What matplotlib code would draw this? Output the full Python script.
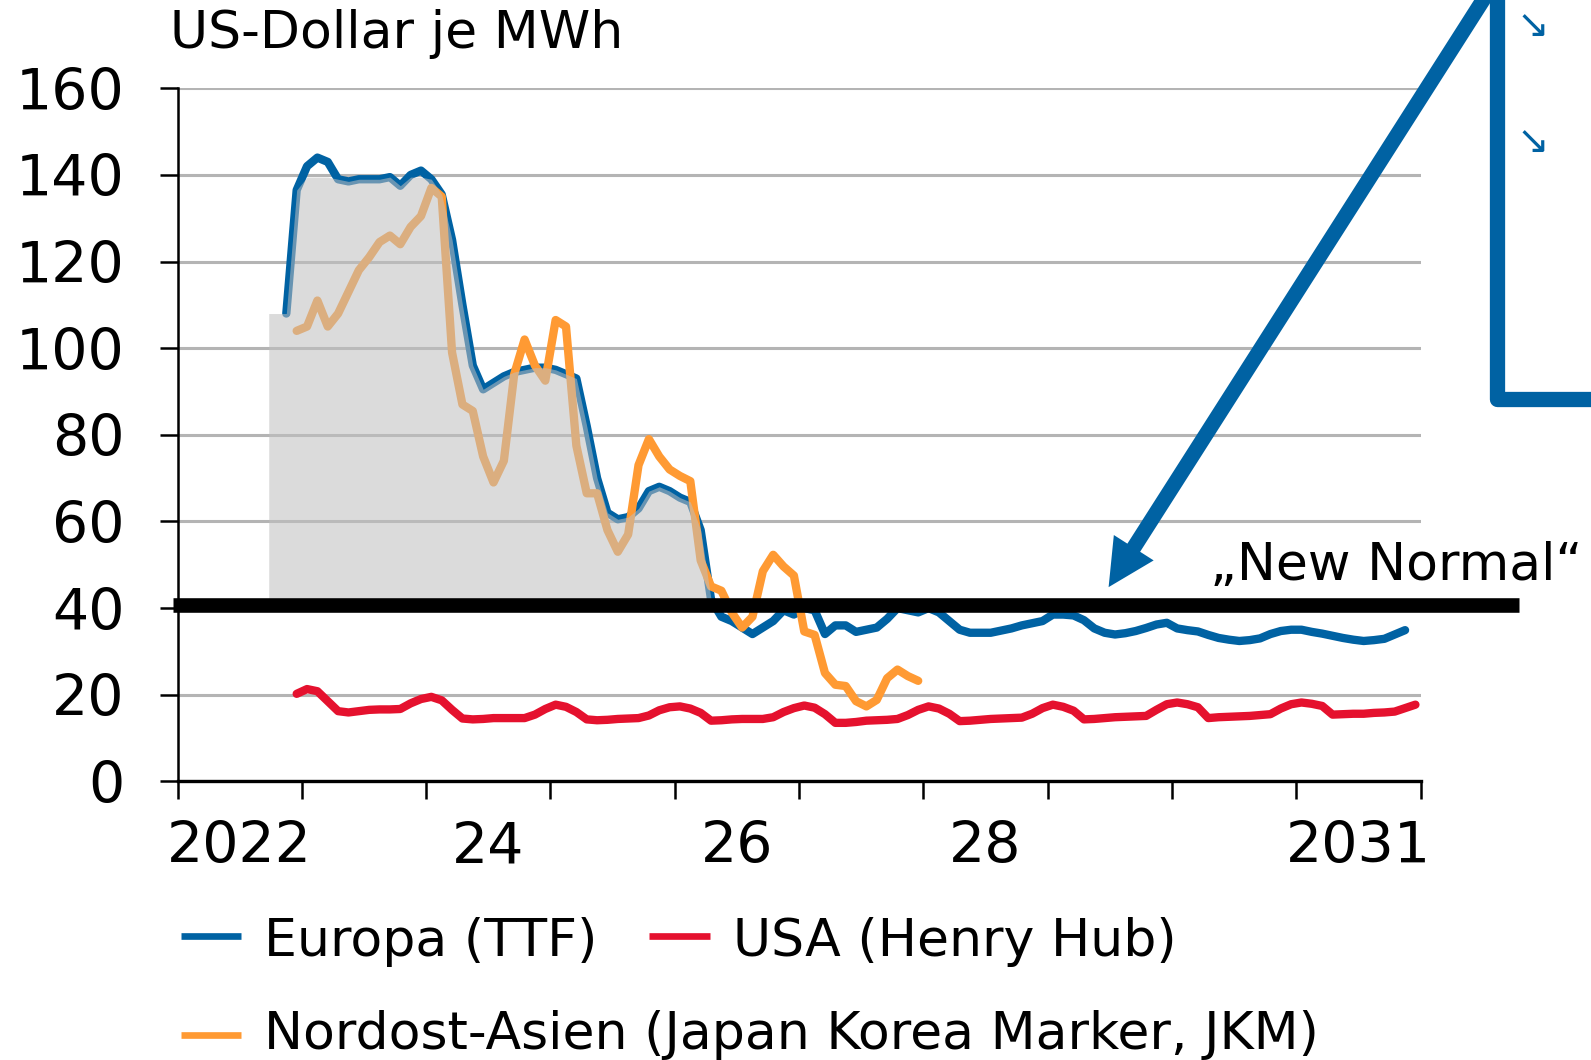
import numpy as np
import matplotlib
matplotlib.use("Agg")
import matplotlib.pyplot as plt
from matplotlib.lines import Line2D

plt.rcParams['font.family'] = ['DejaVu Sans']

# monthly values, first month index counted from Jan 2022 (=0)
ttf_start = 10
ttf = [108, 136.5, 142, 144, 143, 139, 138.5, 139, 139, 139, 139.5, 137.5, 140, 141, 139, 135.5,
       125, 110, 96, 90.5, 92, 93.5, 94.5, 95, 95.5, 95.5, 95, 94, 93, 82, 70, 62, 60.5, 61, 63,
       67, 68, 67, 65.5, 64.5, 58, 42, 38, 37, 35.5, 34, 35.5, 37, 39.5, 38.5, 40, 39.5, 34, 36,
       36, 34.5, 35, 35.5, 37.5, 40, 39.5, 39, 40, 39, 37, 35, 34.3, 34.3, 34.3, 34.8, 35.3, 36,
       36.5, 37, 38.5, 38.5, 38.3, 37.2, 35.3, 34.3, 33.9, 34.2, 34.7, 35.4, 36.2, 36.6, 35.3,
       34.9, 34.6, 33.8, 33.1, 32.7, 32.4, 32.6, 33.0, 34.0, 34.7, 35.0, 35.0, 34.5, 34.1, 33.6,
       33.1, 32.7, 32.4, 32.6, 32.9, 33.9, 34.9]

hh_start = 11
henry_hub = [20.2, 21.3, 20.8, 18.5, 16.2, 15.9, 16.2, 16.5, 16.6, 16.6, 16.7, 18.0, 19.0, 19.5,
             18.7, 16.5, 14.5, 14.3, 14.4, 14.6, 14.6, 14.6, 14.6, 15.4, 16.7, 17.7, 17.2, 16.0,
             14.3, 14.1, 14.2, 14.4, 14.5, 14.6, 15.2, 16.4, 17.1, 17.3, 16.8, 15.8, 14.0, 14.1,
             14.3, 14.4, 14.4, 14.4, 14.8, 16.0, 16.9, 17.5, 17.0, 15.5, 13.5, 13.5, 13.7, 14.0,
             14.1, 14.2, 14.4, 15.3, 16.5, 17.3, 16.8, 15.6, 13.9, 14.0, 14.2, 14.4, 14.5, 14.6,
             14.7, 15.6, 16.9, 17.7, 17.2, 16.3, 14.3, 14.4, 14.6, 14.8, 14.9, 15.0, 15.1, 16.5,
             17.8, 18.2, 17.8, 17.1, 14.6, 14.8, 14.9, 15.0, 15.1, 15.3, 15.5, 16.8, 17.8, 18.2,
             17.9, 17.4, 15.4, 15.5, 15.6, 15.6, 15.8, 15.9, 16.1, 16.9, 17.7]

jkm_start = 11
jkm = [104, 105, 111, 105, 108, 113, 118, 121, 124.5, 126, 124, 128, 130.5, 137, 135, 99, 87,
       85.5, 75, 69, 74, 94, 102, 96, 92.5, 106.5, 105, 77.5, 66.5, 66.5, 58, 53, 57, 73, 79, 75,
       72, 70.5, 69.3, 51, 45, 44, 39, 35.5, 38, 48.5, 52.3, 49.6, 47.5, 34.6, 33.8, 25, 22.3, 22,
       18.5, 17.3, 18.8, 23.8, 25.8, 24.3, 23.2]

new_normal = 40.6
year_labels = ['2022', '', '24', '', '26', '', '28', '', '', '2031']
legend_labels = ['Europa (TTF)', 'USA (Henry Hub)', 'Nordost-Asien (Japan Korea Marker, JKM)']

blue = '#0062a3'
red = '#e5112e'
orange = '#ff9a33'


def month_x(start, n):
    return 2022 + (np.arange(start, start + n) + 0.5) / 12


x_ttf = month_x(ttf_start, len(ttf))
x_hh = month_x(hh_start, len(henry_hub))
x_jkm = month_x(jkm_start, len(jkm))

fig = plt.figure(figsize=(15.91, 10.60), dpi=100)
ax = fig.add_axes([0.1116, 0.2629, 0.8929 - 0.1116, 0.9167 - 0.2629])

ax.set_xlim(2022, 2032)
ax.set_ylim(0, 160)
ax.set_yticks(np.arange(0, 161, 20))
ax.yaxis.grid(True, color='#b4b4b4', lw=2.2)
ax.set_axisbelow(True)
for s in ['top', 'right']:
    ax.spines[s].set_visible(False)
ax.spines['left'].set_linewidth(1.8)
ax.spines['bottom'].set_linewidth(2.4)

ax.set_xticks(np.arange(2022, 2033))
ax.set_xticklabels([])
ax.set_xticks(np.arange(2022, 2032) + 0.5, minor=True)
ax.set_xticklabels(year_labels, minor=True)
ax.tick_params(axis='x', which='major', length=13, width=1.8, direction='out')
ax.tick_params(axis='x', which='minor', length=0, pad=28, labelsize=41)
ax.tick_params(axis='y', length=13, width=1.8, pad=25, labelsize=41)

ax.plot(x_hh, henry_hub, color=red, lw=6, solid_joinstyle='round', solid_capstyle='round', zorder=3)
ax.plot(x_ttf, ttf, color=blue, lw=6, solid_joinstyle='round', solid_capstyle='round', zorder=3)
ax.plot(x_jkm, jkm, color=orange, lw=6, solid_joinstyle='round', solid_capstyle='round', zorder=4)

# grey shading over the high-price phase, semi-transparent over the lines
n_fill = 42
fx = np.concatenate([[x_ttf[0] - 1.7 / 12], x_ttf[:n_fill]])
fy = np.minimum(np.concatenate([[ttf[0]], ttf[:n_fill]]), 139.5)
ax.fill_between(fx, new_normal, fy, color='#bfbfbf', alpha=0.55, lw=0, zorder=5)

# "New Normal" bar
ax.plot([-0.004, 1.079], [new_normal, new_normal], color='black', lw=10.5,
        solid_capstyle='butt', transform=ax.get_yaxis_transform(), clip_on=False, zorder=6)

fig.text(0.7605, 0.4524, '„New Normal“', fontsize=37.5, ha='left', va='baseline')
fig.text(0.107, 0.9544, 'US-Dollar je MWh', fontsize=37.5, ha='left', va='baseline')

# blue arrow and frame pieces
ax.annotate('', xy=(0.6968, 0.4461), xycoords='figure fraction',
            xytext=(0.9403, 1.0191), textcoords='figure fraction',
            arrowprops=dict(arrowstyle='simple,head_length=0.99,head_width=1.0,tail_width=0.32',
                            mutation_scale=34, fc=blue, ec='none', lw=0,
                            shrinkA=0, shrinkB=0), zorder=7)
fig.add_artist(Line2D([0.9412, 0.9412, 1.02], [1.02, 0.6232, 0.6232], color=blue, lw=11,
                      solid_joinstyle='round', solid_capstyle='butt'))
for yy in [0.9755, 0.866]:
    fig.text(0.9636, yy, '↘', color=blue, fontsize=28, ha='center', va='center')

# legend built by hand
rows = [(0.1135, 0.1512, 0.1658, 0.1174, 0.0983, blue, legend_labels[0]),
        (0.4082, 0.4465, 0.4605, 0.1174, 0.0983, red, legend_labels[1]),
        (0.1135, 0.1512, 0.1658, 0.0236, 0.0105, orange, legend_labels[2])]
for x0, x1, xt, yl, yt, c, lab in rows:
    fig.add_artist(Line2D([x0, x1], [yl, yl], color=c, lw=4.8, solid_capstyle='butt'))
    fig.text(xt, yt, lab, fontsize=37.5, ha='left', va='baseline')

fig.savefig('out.png', dpi=100)
